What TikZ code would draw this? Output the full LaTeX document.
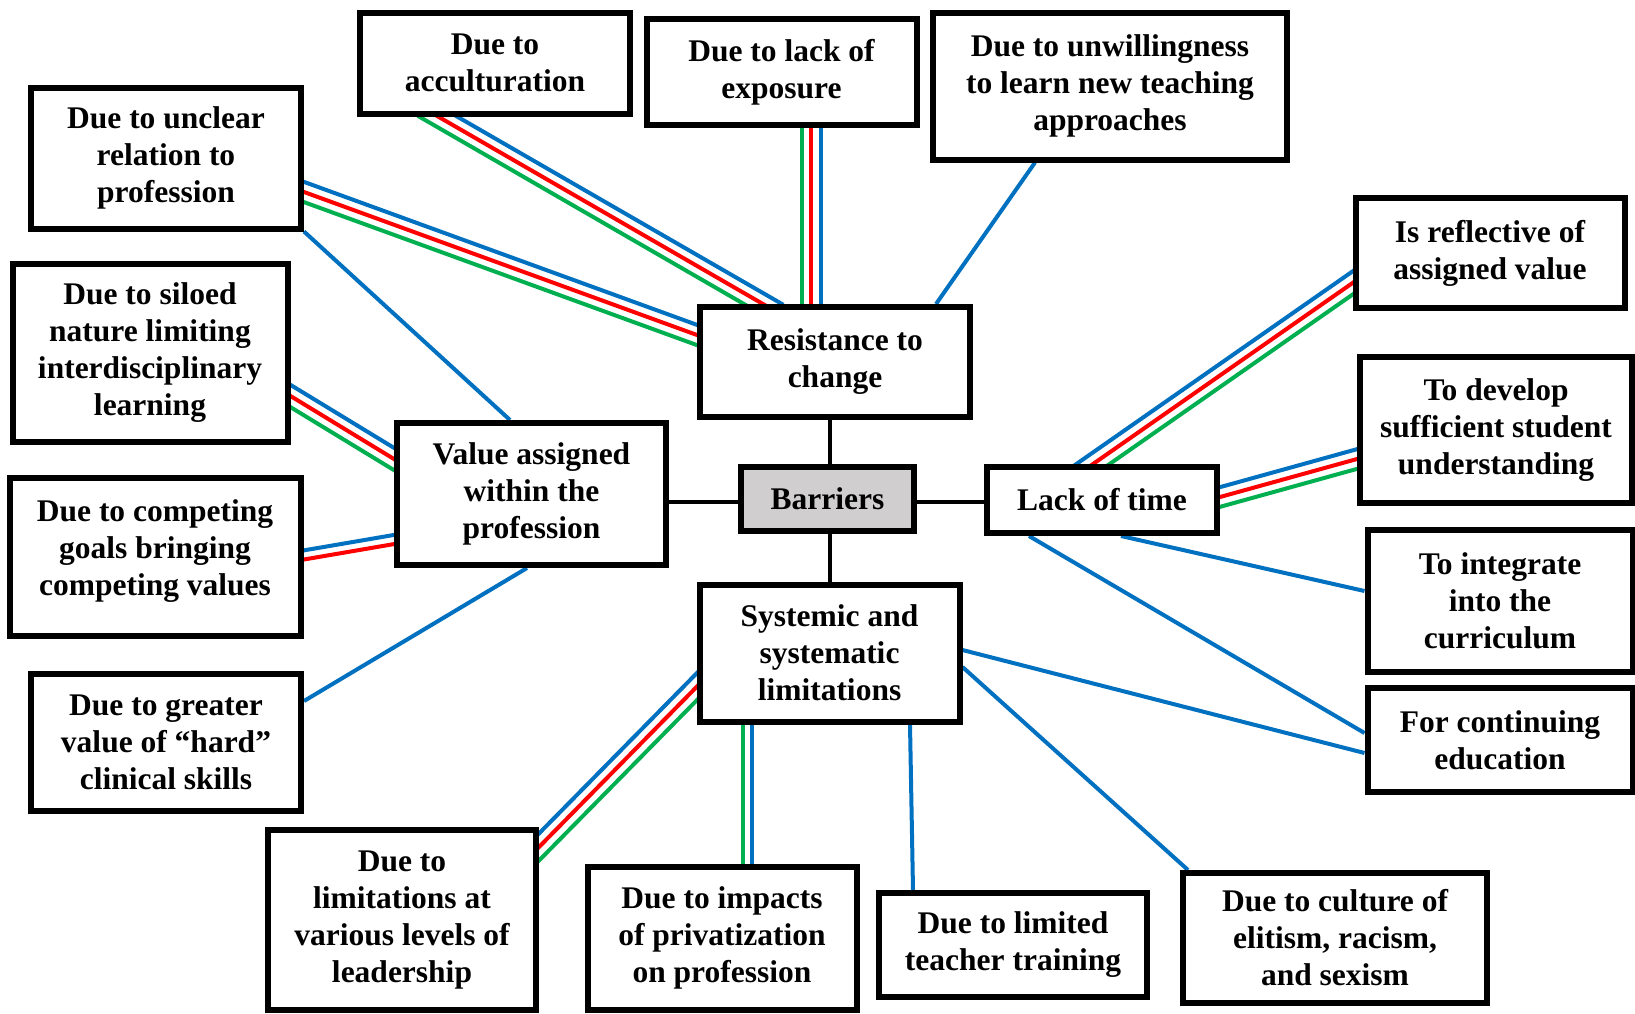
\documentclass[tikz,border=0pt]{standalone}
\usepackage{fontspec}
\setmainfont{Liberation Serif}
\usetikzlibrary{calc}
\pgfdeclarelayer{links}
\pgfsetlayers{links,main}

\definecolor{cbl}{HTML}{0070C0}
\definecolor{crd}{HTML}{FF0000}
\definecolor{cgr}{HTML}{00B050}
\definecolor{cgrey}{HTML}{D0CECE}

% spacing of the parallel coloured strands
\newcommand\lgap{9.5pt}
\newcommand\hgap{4.5pt}

% three parallel strands: blue on the left-hand side of the direction of travel
\newcommand\triplelink[2]{%
  \path #1 coordinate (la) #2 coordinate (lb);
  \draw[strand, cbl] ($(la)!\lgap!90:(lb)$) -- ($(lb)!\lgap!-90:(la)$);
  \draw[strand, crd] (la) -- (lb);
  \draw[strand, cgr] ($(la)!\lgap!-90:(lb)$) -- ($(lb)!\lgap!90:(la)$);
}
% two parallel strands: #3 on the left-hand side, #4 on the right-hand side
\newcommand\duallink[4]{%
  \path #1 coordinate (la) #2 coordinate (lb);
  \draw[strand, #3] ($(la)!\hgap!90:(lb)$) -- ($(lb)!\hgap!-90:(la)$);
  \draw[strand, #4] ($(la)!\hgap!-90:(lb)$) -- ($(lb)!\hgap!90:(la)$);
}

\begin{document}
\begin{tikzpicture}[x=1pt, y=-1pt,
  box/.style={draw, line width=6pt, fill=white, inner sep=0pt, align=center,
    font=\fontsize{31.5}{37}\selectfont\bfseries},
  sz/.style 2 args={minimum width=#1pt, minimum height=#2pt},
  strand/.style={line width=4pt, shorten <=-18pt, shorten >=-18pt},
  single/.style={line width=4pt, cbl},
  hub/.style={line width=4pt, black}]

\useasboundingbox (0,0) rectangle (1635,1013);

% ---- boxes ----
\node[box, sz={270}{101}] (acc)  at (495,63)    {Due to\\acculturation};
\node[box, sz={270}{106}] (exp)  at (781.5,72)  {Due to lack of\\exposure};
\node[box, sz={354}{147}] (unw)  at (1110,86)   {Due to unwillingness\\to learn new teaching\\approaches};
\node[box, sz={270}{141}] (unc)  at (166,158)   {Due to unclear\\relation to\\profession};
\node[box, sz={270}{110}] (res)  at (835,362)   {Resistance to\\change};
\node[box, sz={269}{110}] (ref)  at (1490,253)  {Is reflective of\\assigned value};
\node[box, sz={275}{178}] (sil)  at (150,353)   {Due to siloed\\nature limiting\\interdisciplinary\\learning};
\node[box, sz={272}{146}] (dev)  at (1496,430)  {To develop\\sufficient student\\understanding};
\node[box, sz={269}{142}] (val)  at (531.5,494) {Value assigned\\within the\\profession};
\node[box, sz={173}{64}, fill=cgrey] (bar) at (827.5,499) {Barriers};
\node[box, sz={230}{66}]  (lack) at (1102,500)  {Lack of time};
\node[box, sz={291}{158}, text depth=19pt] (comp) at (155,557) {Due to competing\\goals bringing\\competing values};
\node[box, sz={265}{142}] (int)  at (1500,601)  {To integrate\\into the\\curriculum};
\node[box, sz={265}{104}] (cont) at (1500,740)  {For continuing\\education};
\node[box, sz={260}{137}] (sys)  at (829.5,653) {Systemic and\\systematic\\limitations};
\node[box, sz={270}{137}] (grt)  at (166,742)   {Due to greater\\value of “hard”\\clinical skills};
\node[box, sz={268}{180}] (lead) at (402,920)   {Due to\\limitations at\\various levels of\\leadership};
\node[box, sz={269}{143}] (priv) at (722,938)   {Due to impacts\\of privatization\\on profession};
\node[box, sz={268}{104}] (lim)  at (1013,945)  {Due to limited\\teacher training};
\node[box, sz={304}{130}] (eli)  at (1335,938)  {Due to culture of\\elitism, racism,\\and sexism};

% ---- connectors, kept beneath the boxes ----
\begin{pgfonlayer}{links}
  % hub
  \draw[hub] ([xshift=2.5pt]bar.north) -- ([xshift=2.5pt]bar.north |- res.south);
  \draw[hub] ([xshift=2.5pt]bar.south) -- ([xshift=2.5pt]bar.south |- sys.north);
  \draw[hub] ([yshift=-2.5pt]bar.west) -- ([yshift=-2.5pt]bar.west -| val.east);
  \draw[hub] ([yshift=-2.5pt]bar.east) -- ([yshift=-2.5pt]bar.east -| lack.west);

  % resistance to change
  \triplelink{([yshift=-34pt]unc.east)}{([yshift=27pt]res.west)}
  \triplelink{([xshift=-57pt]acc.south)}{([xshift=-72pt]res.north)}
  \triplelink{([xshift=29.5pt]exp.south)}{([xshift=-24pt]res.north)}
  \draw[single] ([xshift=-75pt]unw.south) -- ([xshift=101pt]res.north);

  % value assigned within the profession
  \draw[single] (unc.south east) -- ([xshift=-21.5pt]val.north);
  \triplelink{([yshift=-43pt]sil.east)}{([yshift=35pt]val.west)}
  \duallink{([yshift=2pt]comp.east)}{([yshift=-45.5pt]val.west)}{cbl}{crd}
  \draw[single] ([yshift=41pt]grt.east) -- ([xshift=-4.5pt]val.south);

  % lack of time
  \triplelink{([xshift=-9pt]lack.north)}{([yshift=-30pt]ref.west)}
  \triplelink{([yshift=3pt]lack.east)}{([yshift=-29pt]dev.west)}
  \draw[single] ([xshift=19pt]lack.south) -- ([yshift=10pt]int.west);
  \draw[single] ([xshift=-73pt]lack.south) -- ([yshift=7pt]cont.west);

  % systemic and systematic limitations
  \draw[single] ([yshift=3pt]sys.east) -- ([yshift=-13pt]cont.west);
  \draw[single] ([yshift=-14pt]sys.east) -- ([xshift=8pt]eli.north west);
  \draw[single] ([xshift=80.5pt]sys.south) -- ([xshift=-100pt]lim.north);
  \triplelink{([yshift=-20pt]lead.north east)}{([yshift=-34pt]sys.west)}
  \duallink{([xshift=-82.5pt]sys.south)}{([xshift=25pt]priv.north)}{cbl}{cgr}
\end{pgfonlayer}
\end{tikzpicture}
\end{document}
